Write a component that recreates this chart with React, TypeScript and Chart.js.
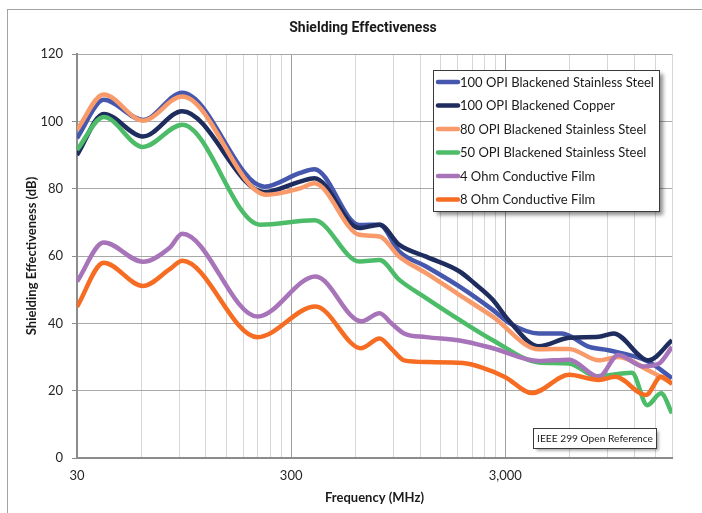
import React, { useEffect, useRef } from 'react';
import { Chart, registerables } from 'chart.js';

Chart.register(...registerables);

// ---------- data ----------
const CHART_TITLE = 'Shielding Effectiveness';
const X_TITLE = 'Frequency (MHz)';
const Y_TITLE = 'Shielding Effectiveness (dB)';
const NOTE_TEXT = 'IEEE 299 Open Reference';

const X_GRID = [30, 60, 90, 120, 150, 180, 210, 240, 270, 300, 600, 900, 1200, 1500, 1800, 2100, 2400, 2700, 3000, 6000, 9000, 12000, 15000, 18000];
const X_MAJOR = [30, 300, 3000];
const X_MAJOR_LABELS = ['30', '300', '3,000'];
const Y_MIN = 0;
const Y_MAX = 120;
const Y_STEP = 20;

const SERIES_NAMES = [
  '100 OPI Blackened Stainless Steel',
  '100 OPI Blackened Copper',
  '80 OPI Blackened Stainless Steel',
  '50 OPI Blackened Stainless Steel',
  '4 Ohm Conductive Film',
  '8 Ohm Conductive Film',
];
const SERIES_COLORS = ['#4657AE', '#1E2C5E', '#F89A6A', '#4CBC69', '#A874B9', '#F56C22'];

const SS100_F = [30, 40, 61, 93, 225, 330, 385, 624, 776, 960, 1280, 1835, 2620, 3150, 4300, 5500, 7400, 9100, 14000, 18000];
const SS100_V = [95, 106.4, 100.4, 108.5, 80.6, 84.7, 85.8, 69.2, 69.3, 61.3, 56.9, 50.9, 44, 40, 37, 37, 33, 32, 28.6, 23.7];

const CU100_F = [30, 40, 61, 93, 225, 330, 385, 624, 776, 960, 1280, 1835, 2150, 2620, 3100, 4300, 5950, 8200, 9600, 14000, 18000];
const CU100_V = [90, 102.2, 95.5, 103, 79, 82.1, 83.1, 68.3, 69.3, 63.3, 59.8, 55.4, 51.9, 47, 41, 33.2, 35.7, 36, 37, 29, 35];

const SS80_F = [30, 40, 61, 93, 230, 330, 385, 624, 776, 960, 1280, 1835, 2620, 4300, 5950, 8200, 10100, 14000, 18000];
const SS80_V = [97.5, 108, 100.2, 107.4, 78.2, 80.1, 81.6, 66.3, 65.8, 59.8, 54.9, 48.4, 42, 32.3, 32.4, 29, 30, 26, 22.2];

const SS50_F = [30, 40, 61, 93, 215, 385, 624, 776, 960, 1280, 1835, 2620, 4300, 5950, 8000, 11700, 13800, 16000, 18000];
const SS50_V = [91.5, 101.3, 92.4, 99, 69.3, 70.6, 58.4, 58.8, 52.9, 47.5, 41, 35, 28.4, 28.1, 24.3, 25.3, 15.7, 19.2, 13.3];

const OHM4_F = [30, 40, 61, 81, 93, 209, 390, 637, 776, 880, 1010, 1280, 1835, 2620, 4300, 5950, 8200, 10100, 13200, 15700, 18000];
const OHM4_V = [52.4, 64, 58.3, 62.4, 66.6, 42, 53.9, 40.6, 43, 40, 37, 35.9, 34.9, 32.6, 28.8, 29.2, 24.1, 30.6, 27.2, 28.1, 33];

const OHM8_F = [30, 40, 61, 81, 93, 209, 390, 637, 776, 880, 1010, 1300, 1900, 2300, 3000, 4000, 5950, 8200, 9800, 13600, 16000, 18000];
const OHM8_V = [44.9, 58, 51.1, 56, 58.6, 35.9, 45, 32.6, 35.5, 32.5, 29, 28.5, 28.2, 27, 24, 19.3, 24.7, 23.2, 24.1, 18.7, 24.1, 22];

const SERIES_F = [SS100_F, CU100_F, SS80_F, SS50_F, OHM4_F, OHM8_F];
const SERIES_V = [SS100_V, CU100_V, SS80_V, SS50_V, OHM4_V, OHM8_V];

// ---------- styling ----------
const BODY_FONT = 'Lato, "Open Sans", "Liberation Sans", sans-serif';
const TITLE_FONT = 'Roboto, "DejaVu Sans", sans-serif';

const decorPlugin = {
  id: 'decor',
  beforeDraw(chart: any) {
    const ctx = chart.ctx;
    ctx.save();
    ctx.fillStyle = '#ffffff';
    ctx.fillRect(0, 0, chart.width, chart.height);
    ctx.strokeStyle = '#a3a3a3';
    ctx.lineWidth = 1;
    ctx.strokeRect(7.5, 9.5, 900, 900);
    ctx.restore();
  },
  afterDraw(chart: any) {
    const ctx = chart.ctx;
    const area = chart.chartArea;
    ctx.save();
    ctx.fillStyle = '#1a1a1a';
    ctx.textAlign = 'center';
    ctx.textBaseline = 'middle';
    // title
    ctx.font = `bold 14px ${TITLE_FONT}`;
    ctx.fillText(CHART_TITLE, 363, 28);
    // x title
    ctx.font = `bold 13px ${BODY_FONT}`;
    ctx.fillText(X_TITLE, (area.left + area.right) / 2, 498);
    // y title
    ctx.save();
    ctx.translate(32, (area.top + area.bottom) / 2);
    ctx.rotate(-Math.PI / 2);
    ctx.fillText(Y_TITLE, 0, 0);
    ctx.restore();

    // legend box
    const lx = 433.5, ly = 70.5, lw = 226, lh = 141;
    ctx.save();
    ctx.shadowColor = 'rgba(0,0,0,0.45)';
    ctx.shadowOffsetX = 3;
    ctx.shadowOffsetY = 3;
    ctx.shadowBlur = 4;
    ctx.fillStyle = '#ffffff';
    ctx.fillRect(lx, ly, lw, lh);
    ctx.restore();
    ctx.strokeStyle = '#3a3a3a';
    ctx.lineWidth = 1;
    ctx.strokeRect(lx, ly, lw, lh);
    ctx.font = `13px ${BODY_FONT}`;
    ctx.textAlign = 'left';
    chart.data.datasets.forEach((ds: any, i: number) => {
      const y = 82 + i * 23.5;
      ctx.strokeStyle = ds.borderColor;
      ctx.lineWidth = 4.5;
      ctx.lineCap = 'round';
      ctx.beginPath();
      ctx.moveTo(438, y);
      ctx.lineTo(458, y);
      ctx.stroke();
      ctx.fillStyle = '#1a1a1a';
      ctx.fillText(ds.label, 460, y + 0.5);
    });

    // note box
    const nx = 533.5, ny = 428.5, nw = 123, nh = 20;
    ctx.save();
    ctx.shadowColor = 'rgba(0,0,0,0.4)';
    ctx.shadowOffsetX = 2;
    ctx.shadowOffsetY = 2;
    ctx.shadowBlur = 3;
    ctx.fillStyle = '#ffffff';
    ctx.fillRect(nx, ny, nw, nh);
    ctx.restore();
    ctx.strokeStyle = '#3a3a3a';
    ctx.lineWidth = 1;
    ctx.strokeRect(nx, ny, nw, nh);
    ctx.fillStyle = '#1a1a1a';
    ctx.font = `10.2px ${BODY_FONT}`;
    ctx.textAlign = 'center';
    ctx.fillText(NOTE_TEXT, nx + nw / 2, ny + nh / 2 + 0.5);
    ctx.restore();
  },
};

export default function App() {
  const canvasRef = useRef<HTMLCanvasElement | null>(null);

  useEffect(() => {
    const canvas = canvasRef.current;
    if (!canvas) return;
    const datasets = SERIES_NAMES.map((name, i) => ({
      label: name,
      data: SERIES_F[i].map((f, j) => ({ x: f, y: SERIES_V[i][j] })),
      borderColor: SERIES_COLORS[i],
      backgroundColor: SERIES_COLORS[i],
      borderWidth: 4.5,
      pointRadius: 0,
      cubicInterpolationMode: 'monotone' as const,
      fill: false,
      order: SERIES_NAMES.length - i,
    }));

    const chart = new Chart(canvas, {
      type: 'line',
      data: { datasets },
      plugins: [decorPlugin],
      options: {
        animation: false,
        responsive: false,
        devicePixelRatio: 1,
        layout: { padding: { left: 0, top: 54, right: 30, bottom: 0 } },
        plugins: {
          legend: { display: false },
          tooltip: { enabled: false },
          title: { display: false },
        },
        scales: {
          x: {
            type: 'logarithmic',
            min: 30,
            max: 18000,
            bounds: 'data',
            afterBuildTicks: (scale: any) => {
              scale.ticks = X_GRID.map((v) => ({ value: v, major: X_MAJOR.includes(v) }));
            },
            afterFit: (scale: any) => {
              scale.height = 55;
            },
            ticks: {
              autoSkip: false,
              maxRotation: 0,
              minRotation: 0,
              padding: 10,
              color: '#262626',
              font: { family: BODY_FONT, size: 13 },
              callback: (value: any) => {
                const k = X_MAJOR.indexOf(Number(value));
                return k >= 0 ? X_MAJOR_LABELS[k] : '';
              },
            },
            grid: {
              drawTicks: false,
              color: (ctx: any) => (ctx.tick && X_MAJOR.includes(ctx.tick.value) ? '#a0a0a0' : '#d6d6d6'),
              lineWidth: 1,
            },
            border: { display: true, color: '#8c8c8c', width: 2 },
          },
          y: {
            type: 'linear',
            min: Y_MIN,
            max: Y_MAX,
            afterFit: (scale: any) => {
              scale.width = 77;
            },
            ticks: {
              stepSize: Y_STEP,
              padding: 9,
              color: '#262626',
              font: { family: BODY_FONT, size: 13 },
            },
            grid: {
              color: '#a8a8a8',
              lineWidth: 1,
              drawTicks: true,
              tickLength: 5,
              tickColor: '#8c8c8c',
            },
            border: { display: true, color: '#8c8c8c', width: 2 },
          },
        },
      },
    } as any);

    return () => {
      chart.destroy();
    };
  }, []);

  return (
    <div style={{ position: 'fixed', left: 0, top: 0, width: 702, height: 513, background: '#fff' }}>
      <canvas ref={canvasRef} width={702} height={513} style={{ width: 702, height: 513, display: 'block' }} />
    </div>
  );
}
